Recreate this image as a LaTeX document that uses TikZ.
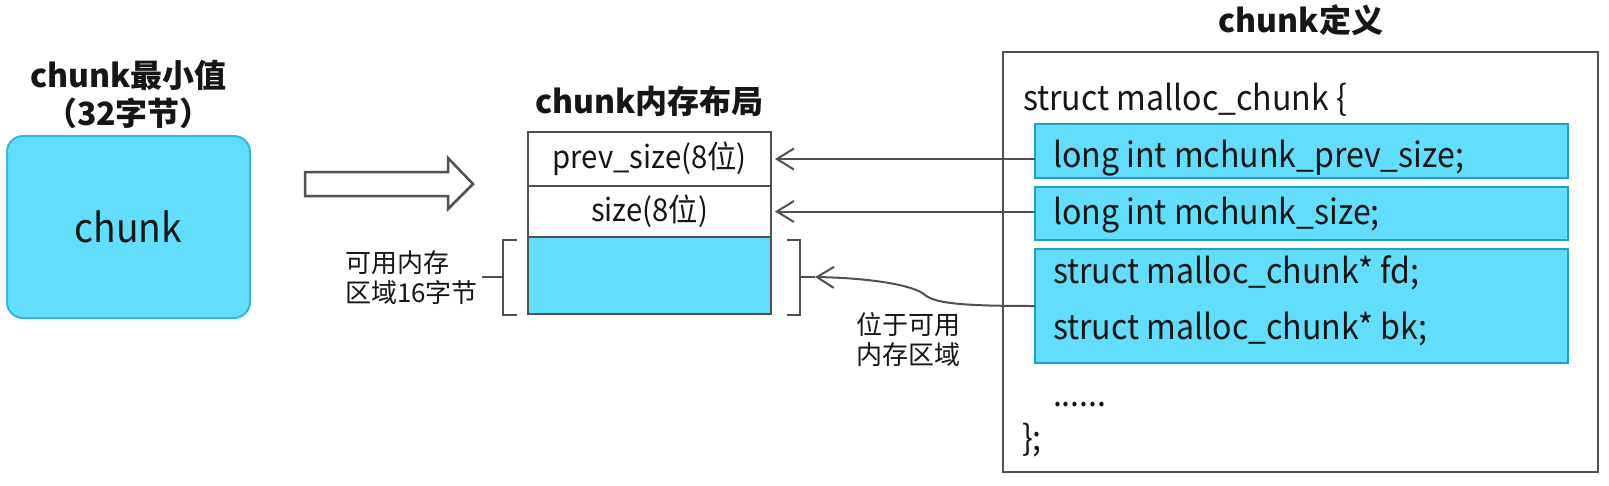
\documentclass[tikz,border=0pt]{standalone}
\usepackage{fontspec}
\setmainfont{Noto Sans CJK SC}
\newfontfamily\thinfont{Noto Sans CJK SC}[FakeStretch=0.93]
\usetikzlibrary{arrows.meta}
\definecolor{cyanfill}{HTML}{62DDFC}
\definecolor{cyanedge}{HTML}{1DA2C6}
\definecolor{softedge}{HTML}{34B6D8}
\definecolor{lineg}{HTML}{505050}
\definecolor{txt}{HTML}{161616}
\begin{document}
\begin{tikzpicture}[x=1pt,y=-1pt,
  every node/.style={inner sep=0pt, outer sep=0pt, text=txt},
  ttl/.style={font=\fontsize{32}{36}\selectfont\bfseries, anchor=base},
  cell/.style={draw=lineg, line width=2.5pt, minimum width=243pt, anchor=north west, font=\thinfont\fontsize{31.5}{36}\selectfont},
  codebox/.style={draw=cyanedge, fill=cyanfill, line width=2.5pt, minimum width=533pt, anchor=north west},
  code/.style={font=\thinfont\fontsize{34.5}{40}\selectfont, anchor=base west},
  lbl/.style={font=\fontsize{26}{30}\selectfont, align=center},
  conn/.style={draw=lineg, line width=2pt, -{Straight Barb[length=17pt,width=21pt,line width=2pt]}},
  brk/.style={draw=lineg, line width=2.5pt}
]
\useasboundingbox (0,0) rectangle (1609,485);
\fill[white] (0,0) rectangle (1609,485);

% left: minimal chunk
\node[ttl] (tmin) at (128.5,87) {chunk最小值};
\node[ttl] (tmin2) at (128.5,125) {（32字节）};
\node[draw=softedge, fill=cyanfill, line width=2pt, rounded corners=16pt,
      minimum width=243pt, minimum height=182pt, anchor=north west,
      font=\thinfont\fontsize{40}{46}\selectfont] (chunk) at (7,136) {chunk};

% hollow arrow
\draw[draw=lineg, line width=2.5pt, fill=white, line join=miter]
  (305,172) -- (448,172) -- (448,158) -- (473,184) -- (448,209) -- (448,196) -- (305,196) -- cycle;

% middle: layout table
\node[ttl] (tlay) at (649.5,113) {chunk内存布局};
\node[cell, minimum height=54pt] (cp) at (528,132) {prev\_size(8位)};
\node[cell, minimum height=51pt] (cs) at (528,186) {size(8位)};
\node[cell, minimum height=77pt, fill=cyanfill] (cu) at (528,237) {};

% brackets
\draw[brk] (517,240) -- (503,240) -- (503,315) -- (517,315);
\coordinate (lb) at (503,277);
\draw[brk] (787,240) -- (800,240) -- (800,315) -- (787,315);
\draw[draw=lineg, line width=2pt] (800,277) -- (815,277);
\coordinate (rb) at (815,277);

\node[lbl, anchor=west, align=left] (lblL) at (345,278) {可用内存\\区域16字节};
\draw[draw=lineg, line width=2pt, shorten <=4pt] (lblL.east |- lb) -- (lb);

% right: definition
\node[ttl] (tdef) at (1301,32) {chunk定义};
\node[draw=lineg, line width=2.5pt, minimum width=595pt, minimum height=420pt, anchor=north west] (def) at (1003,52) {};
\node[codebox, minimum height=54pt] (c1) at (1035,124) {};
\node[codebox, minimum height=53pt] (c2) at (1035,187) {};
\node[codebox, minimum height=114pt] (c3) at (1035,249) {};

\node[code] (l0) at (1023,110) {struct malloc\_chunk \{};
\node[code] (l1) at (1053,167) {long int mchunk\_prev\_size;};
\node[code] (l2) at (1053,224) {long int mchunk\_size;};
\node[code] (l3) at (1053,283) {struct malloc\_chunk* fd;};
\node[code] (l4) at (1053,339) {struct malloc\_chunk* bk;};
\node[code] (l5) at (1053,406) {......};
\node[code] (l6) at (1022,450) {\};};

% connectors
\draw[conn, shorten >=4pt] (c1.west |- cp.east) -- (cp.east);
\draw[conn, shorten >=4pt] (c2.west |- cs.east) -- (cs.east);
\draw[conn] (c3.west) .. controls (968,306) and (936,304) .. (925,295)
  .. controls (914,285) and (870,278) .. (rb);

\node[lbl] (lblR) at (908,340) {位于可用\\内存区域};
\end{tikzpicture}
\end{document}
